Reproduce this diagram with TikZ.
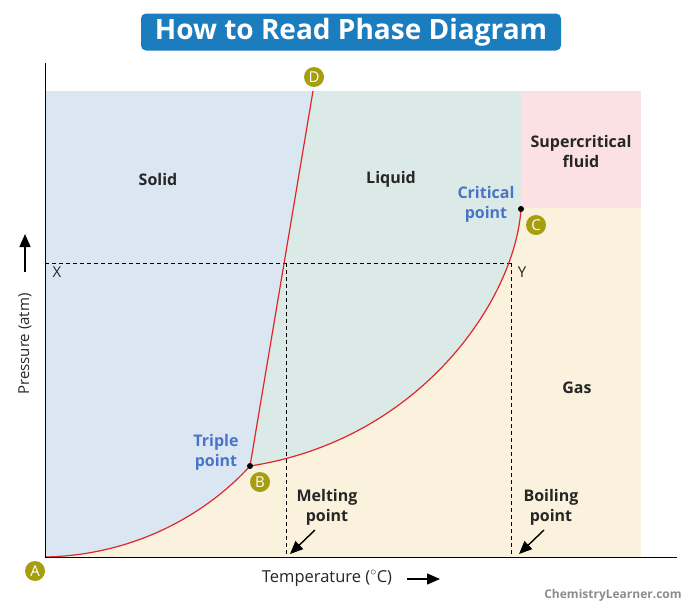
\documentclass[tikz,border=0pt]{standalone}
\usepackage{fontspec}
\setmainfont{Open Sans}
\usetikzlibrary{arrows.meta}
\definecolor{titleblue}{HTML}{1B7DBE}
\definecolor{solidc}{HTML}{DAE7F3}
\definecolor{liquidc}{HTML}{DCEAE7}
\definecolor{gasc}{HTML}{FAF2DD}
\definecolor{superc}{HTML}{FBE1E4}
\definecolor{olive}{HTML}{A69E0E}
\definecolor{lblblue}{HTML}{4A74C8}
\definecolor{curvered}{HTML}{E0262B}
\tikzset{
  ptlabel/.style={circle,fill=olive,text=white,inner sep=0pt,minimum size=20pt,font=\fontsize{15}{15}\selectfont},
  region/.style={font=\fontsize{16}{20}\selectfont\bfseries,align=center,text=black!85},
  bluelbl/.style={font=\fontsize{16}{20}\selectfont\bfseries,align=center,text=lblblue},
  curve/.style={draw=curvered,line width=1.2pt},
  guide/.style={draw=black,dashed,dash pattern=on 4pt off 3pt,line width=0.8pt},
  axis/.style={draw=black,line width=1pt},
  pointer/.style={-{Triangle[length=13pt,width=11pt]},line width=1.4pt},
  dotpt/.style={circle,fill=black,inner sep=0pt,minimum size=6pt}
}
\begin{document}
\begin{tikzpicture}[x=1pt,y=-1pt]
\useasboundingbox (0,0) rectangle (700,613);
% coordinates
\coordinate (a) at (45,557);
\coordinate (b) at (250,466);
\coordinate (c) at (521,209);
\coordinate (d) at (313,91);
\coordinate (tl) at (45,91);
\coordinate (tr) at (641,91);
\coordinate (br) at (641,557);
\coordinate (sc) at (521,91);
\coordinate (sr) at (641,208);
\coordinate (x) at (45,263);
\coordinate (y) at (511,263);
\coordinate (m) at (286,263);
\coordinate (mb) at (286,557);
\coordinate (yb) at (511,557);
% regions
\fill[gasc] (tl) rectangle (br);
\fill[superc] (sc) rectangle (sr);
\fill[liquidc] (b) -- (d) -- (sc) -- (c) .. controls (515,300) and (420,440) .. (b) -- cycle;
\fill[solidc] (a) .. controls (140,555) and (210,510) .. (b) -- (d) -- (tl) -- cycle;
% guides
\draw[guide] (x) -- (y);
\draw[guide] (m) -- (mb);
\draw[guide] (y) -- (yb);
% curves
\draw[curve] (a) .. controls (140,555) and (210,510) .. (b);
\draw[curve] (b) .. controls (420,440) and (515,300) .. (c);
\draw[curve] (b) -- (d);
% axes
\coordinate (yt) at (45,63);
\coordinate (xr) at (677,557);
\draw[axis] (yt) -- (a) -- (xr);
% dots
\node[dotpt] (bdot) at (b) {};
\node[dotpt] (cdot) at (c) {};
% point labels
\node[ptlabel] (A) at (35,571) {A};
\node[ptlabel] (B) at (260,482) {B};
\node[ptlabel] (C) at (536,225) {C};
\node[ptlabel] (D) at (314,77) {D};
% title
\node[fill=titleblue,text=white,rounded corners=5pt,minimum width=420pt,minimum height=37pt,inner sep=0pt,font=\fontsize{28}{28}\selectfont\bfseries] (title) at (351,32) {How to Read Phase Diagram};
% region labels
\node[region] (solid) at (158,179) {Solid};
\node[region] (liquid) at (391,179) {Liquid};
\node[region] (super) at (581,151) {Supercritical\\fluid};
\node[region] (gas) at (577,388) {Gas};
\node[bluelbl] (crit) at (486,204) {Critical\\point};
\node[bluelbl] (trip) at (216,452) {Triple\\point};
\node[region] (melt) at (327,507) {Melting\\point};
\node[region] (boil) at (551,507) {Boiling\\point};
\node[font=\fontsize{15}{15}\selectfont,text=black!85] (xl) at (57,272) {X};
\node[font=\fontsize{15}{15}\selectfont,text=black!85] (yl) at (522,272) {Y};
% pointer arrows
\coordinate (mt) at (315,530);
\coordinate (mh) at (290,554);
\coordinate (bt) at (544,530);
\coordinate (bh) at (519,554);
\draw[pointer] (mt) -- (mh);
\draw[pointer] (bt) -- (bh);
% axis titles
\node[font=\fontsize{16.5}{16}\selectfont,text=black!85] (temp) at (327,578) {Temperature ($^{\circ}$C)};
\coordinate (ta) at (407,579);
\coordinate (tb) at (440,579);
\draw[pointer] (ta) -- (tb);
\node[font=\fontsize{15}{15}\selectfont,text=black!85,rotate=90] (pres) at (25,344) {Pressure (atm)};
\coordinate (pa) at (25,272);
\coordinate (pb) at (25,234);
\draw[pointer] (pa) -- (pb);
% credit
\node[font=\fontsize{12}{12}\selectfont\bfseries,text=black!45] (credit) at (613,595) {ChemistryLearner.com};
\end{tikzpicture}
\end{document}
